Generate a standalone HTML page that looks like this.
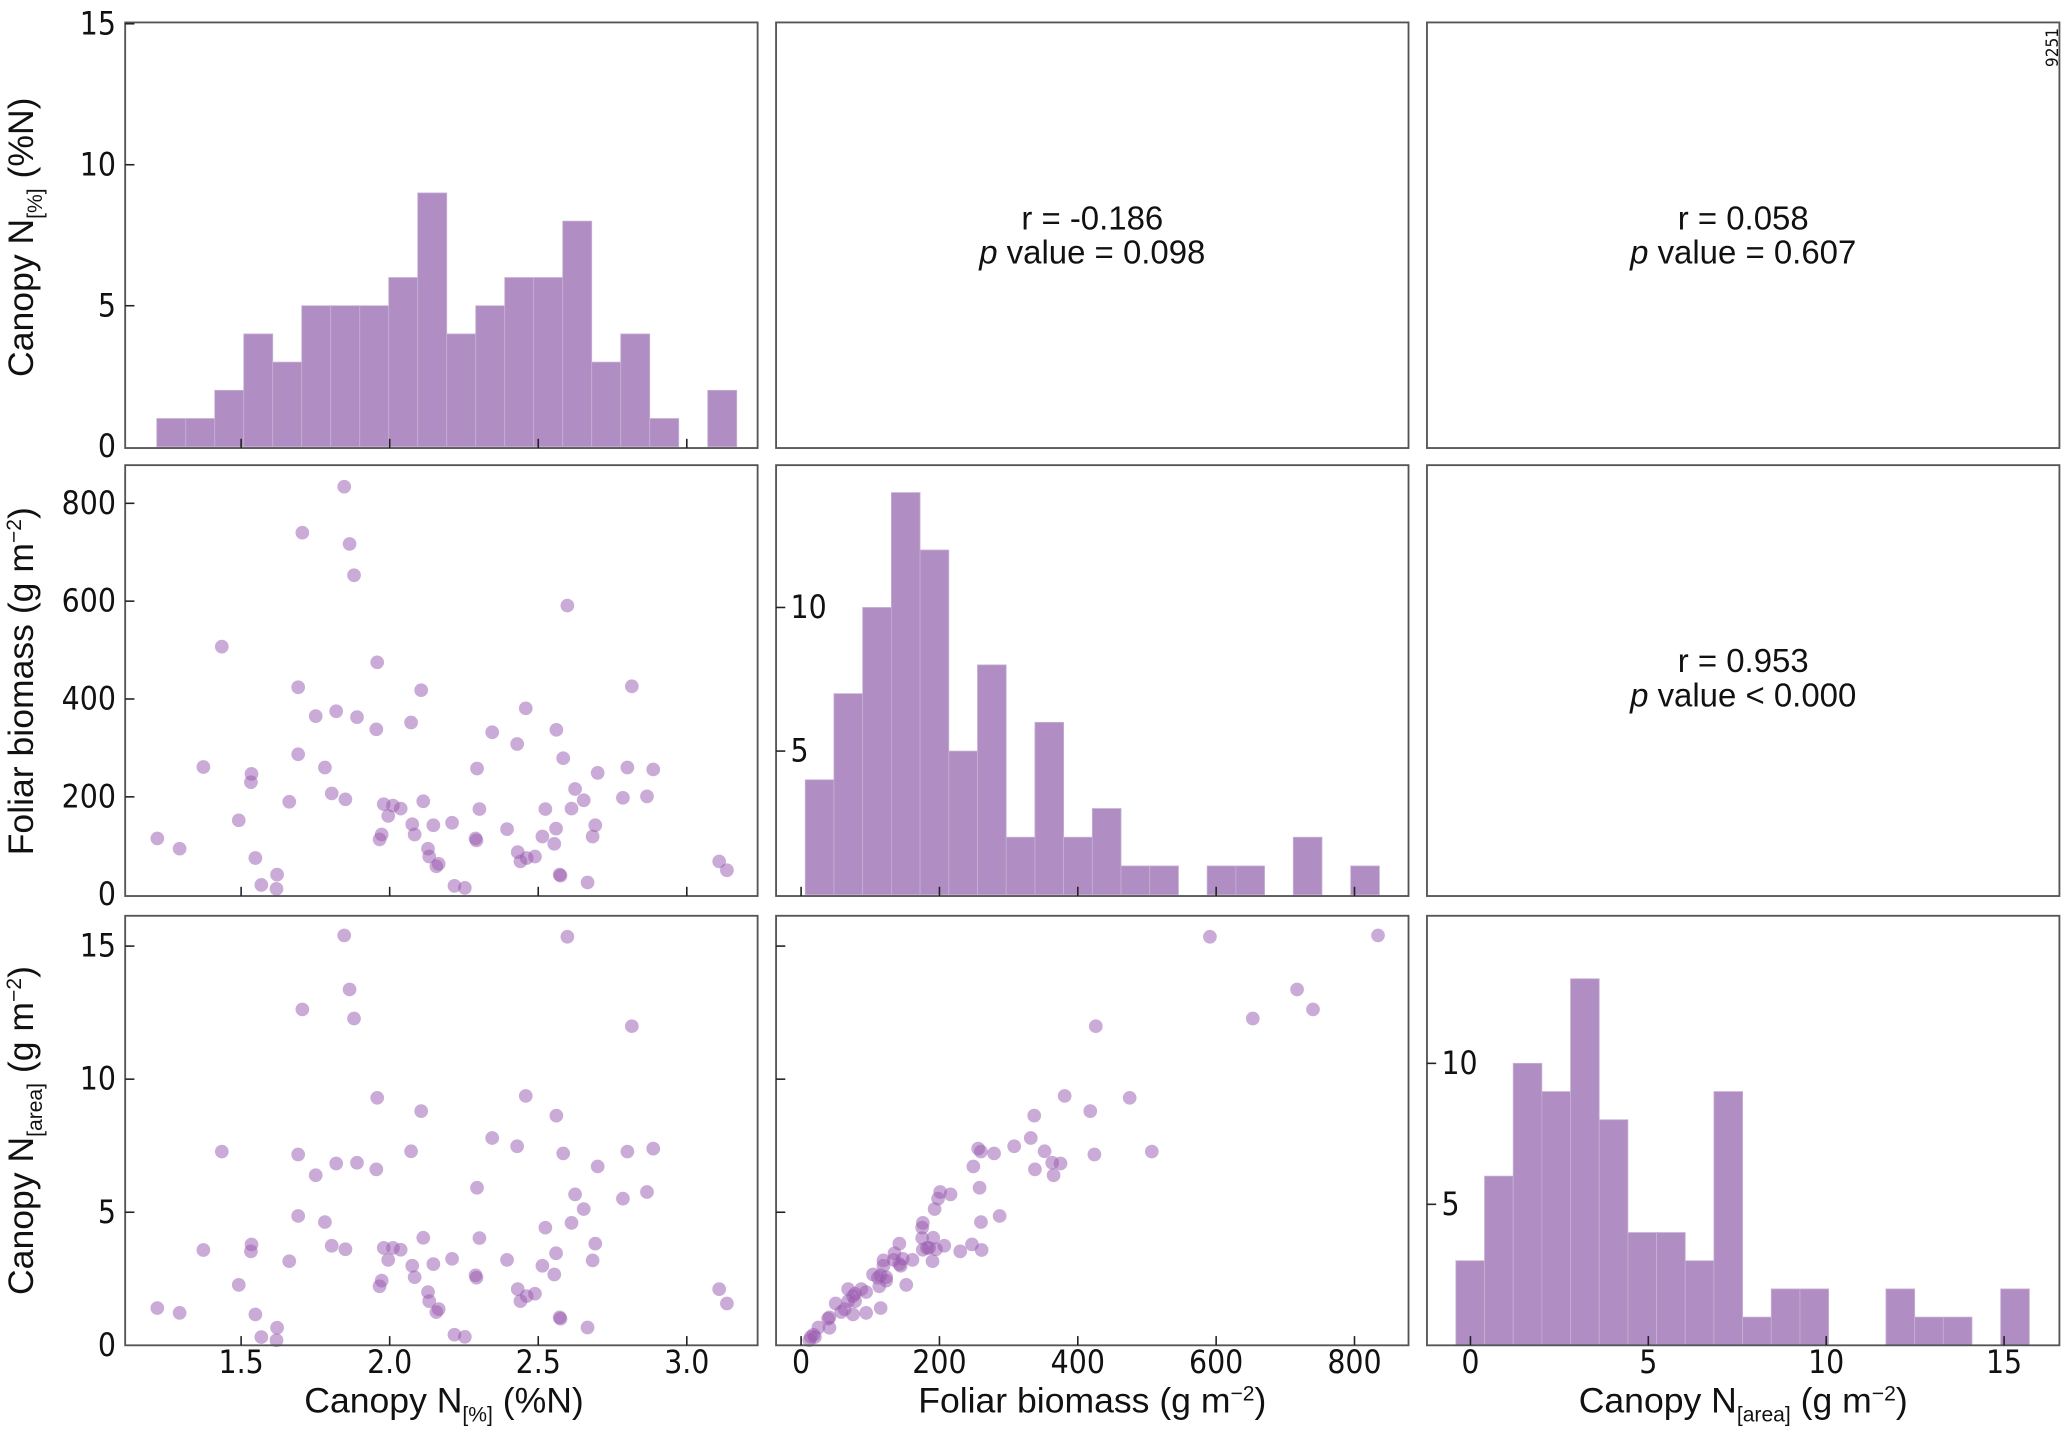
<!DOCTYPE html>
<html><head><meta charset="utf-8"><style>
html,body{margin:0;padding:0;background:#fff}
svg{display:block}
text{font-family:"Liberation Sans Narrow","DejaVu Sans Condensed","Liberation Sans",sans-serif;fill:#111}
.tt{font-family:"Liberation Sans","DejaVu Sans",sans-serif}
</style></head><body>
<svg id="c" width="2066" height="1431" viewBox="0 0 1568 1086" xmlns="http://www.w3.org/2000/svg"></svg>
<script>
const nPct=[1.847,1.706,1.865,1.880,2.598,1.435,1.958,1.692,2.106,2.815,2.458,1.751,1.820,1.890,1.955,2.072,2.345,2.429,2.561,2.584,1.692,1.373,1.535,1.533,1.782,2.294,2.700,2.800,2.887,2.624,1.805,1.851,1.662,1.980,2.011,2.037,2.113,2.302,2.524,2.612,2.653,2.785,2.866,1.995,1.492,2.076,2.147,2.210,2.395,2.560,2.692,1.973,1.966,2.084,2.289,2.292,2.514,2.683,2.554,1.218,1.293,2.129,2.133,2.431,2.461,2.440,2.489,1.548,2.165,2.157,3.109,3.135,2.572,2.575,1.621,1.568,2.218,2.666,1.619,2.253];
const foliar=[834,740,717,653,591,507,475,424,418,426,381,365,375,363,338,352,332,308,337,279,287,261,247,230,260,258,249,260,256,216,207,195,190,185,182,176,191,175,175,176,193,198,201,161,152,144,142,147,134,135,142,123,113,123,115,111,119,119,104,115,94,94,78,87,75,68,78,75,63,58,68,50,41,39,41,20,18,25,12,14];
const nArea=[15.40,12.62,13.37,12.28,15.35,7.28,9.30,7.17,8.80,11.99,9.37,6.39,6.83,6.86,6.61,7.29,7.79,7.48,8.63,7.21,4.86,3.58,3.79,3.53,4.63,5.92,6.72,7.28,7.39,5.67,3.74,3.61,3.16,3.66,3.66,3.59,4.04,4.03,4.42,4.60,5.12,5.51,5.76,3.21,2.27,2.99,3.05,3.25,3.21,3.46,3.82,2.43,2.22,2.56,2.63,2.54,2.99,3.19,2.66,1.40,1.22,2.00,1.66,2.11,1.85,1.66,1.94,1.16,1.36,1.25,2.11,1.57,1.05,1.00,0.66,0.31,0.40,0.67,0.19,0.32];
const histN=[1,1,2,4,3,5,5,5,6,9,4,5,6,6,8,3,4,1,0,2];
const histF=[4,7,10,14,12,5,8,2,6,2,3,1,1,0,1,1,0,2,0,1];
const histA=[3,6,10,9,13,8,4,4,3,9,1,2,2,0,0,2,1,1,0,2];
const ticksN=["1.5","2.0","2.5","3.0"];
const ticksF=["0","200","400","600","800"];
const ticksA=["0","5","10","15"];
const ticksCount=["0","5","10","15"];
const statsR=["r = -0.186","r = 0.058","r = 0.953"];
const statsP=[" value = 0.098"," value = 0.607"," value < 0.000"];

const svg=document.getElementById('c');
const NS="http://www.w3.org/2000/svg";
function el(tag,attrs,parent){const e=document.createElementNS(NS,tag);for(const k in attrs)e.setAttribute(k,attrs[k]);(parent||svg).appendChild(e);return e;}
const cols=[[95,575],[589,1069],[1083,1563]];
const rows=[[17,340],[353,680],[695,1021]];
const xN=v=>183+(v-1.5)*225.5;
const xF=v=>608+v*0.525;
const xA=v=>1116+v*27;
const yN=v=>339-v*21.4;
const yF=v=>679-v*0.3713;
const yA=v=>1021-v*20.2;
const yCF=v=>679-v*21.8;
const yCA=v=>1021-v*21.4;

const pnames=[["hist-canopy-n-pct","stats-panel-1","stats-panel-2"],["scatter-n-pct-vs-foliar","hist-foliar-biomass","stats-panel-3"],["scatter-n-pct-vs-n-area","scatter-foliar-vs-n-area","hist-n-area"]];
const groups=[];
for(let r=0;r<3;r++){groups[r]=[];for(let c=0;c<3;c++){
  const g=el('g',{});
  
  
  groups[r][c]=g;
}}
function border(r,c){const g=groups[r][c];const b=el('rect',{x:cols[c][0],y:rows[r][0],width:cols[c][1]-cols[c][0],height:rows[r][1]-rows[r][0],fill:'none',stroke:'#555','stroke-width':1.4},g);
  }

function hist(g,counts,x0,bw,xs,ys){
  counts.forEach((n,i)=>{if(!n)return;
    const a=xs(x0+i*bw),b=xs(x0+(i+1)*bw);
    const r=el('rect',{x:a,y:ys(n),width:b-a,height:ys(0)-ys(n),fill:'#b08dc2',stroke:'#c7b1d4','stroke-width':0.6},g);
    });
}
function scatter(g,xv,yv,xs,ys){
  xv.forEach((v,i)=>{const c=el('circle',{cx:xs(v),cy:ys(yv[i]),r:5.2,fill:'#9a5cb0','fill-opacity':0.52},g);
    });
}
function xticks(g,labels,xs,r,lab){labels.forEach(t=>{const x=xs(parseFloat(t));
  el('line',{x1:x,x2:x,y1:rows[r][1],y2:rows[r][1]-7,stroke:'#222','stroke-width':1.2},g);
  if(lab){const tx=el('text',{x:x,y:1042,'font-size':24,'text-anchor':'middle'},g);tx.textContent=t;
    }});}
function yticks(g,labels,ys,c,mode,skip0){labels.forEach(t=>{const v=parseFloat(t);const y=ys(v);
  if(!(skip0&&v===0)) el('line',{x1:cols[c][0],x2:cols[c][0]+7,y1:y,y2:y,stroke:'#222','stroke-width':1.2},g);
  if(mode==='out'){const tx=el('text',{x:88,y:y+8,'font-size':24,'text-anchor':'end'},g);tx.textContent=t;
    }
  else if(mode==='in'&&v!==0){const tx=el('text',{x:cols[c][0]+11,y:y+8,'font-size':24},g);tx.textContent=t;
    }});}

hist(groups[0][0],histN,1.216,0.0976,xN,yN);
border(0,0);xticks(groups[0][0],ticksN,xN,0,false);yticks(groups[0][0],ticksCount,yN,0,'out',true);
[[0,1,829,166],[0,2,1323,166],[1,2,1323,502]].forEach((s,i)=>{const g=groups[s[0]][s[1]];border(s[0],s[1]);
  const t1=el('text',{x:s[2],y:s[3]+8,'font-size':25,'text-anchor':'middle',class:'tt'},g);t1.textContent=statsR[i];
  
  const t2=el('text',{x:s[2],y:s[3]+34,'font-size':25,'text-anchor':'middle',class:'tt'},g);
  const ts=el('tspan',{'font-style':'italic'},t2);ts.textContent='p';const ts2=el('tspan',{},t2);ts2.textContent=statsP[i];
  });
scatter(groups[1][0],nPct,foliar,xN,yF);border(1,0);xticks(groups[1][0],ticksN,xN,1,false);yticks(groups[1][0],ticksF,yF,0,'out',true);
hist(groups[1][1],histF,6,41.5,xF,yCF);border(1,1);xticks(groups[1][1],ticksF,xF,1,false);yticks(groups[1][1],["0","5","10"],yCF,1,'in',true);
scatter(groups[2][0],nPct,nArea,xN,yA);border(2,0);xticks(groups[2][0],ticksN,xN,2,true);yticks(groups[2][0],ticksA,yA,0,'out',true);
scatter(groups[2][1],foliar,nArea,xF,yA);border(2,1);xticks(groups[2][1],ticksF,xF,2,true);yticks(groups[2][1],ticksA,yA,1,'none',true);
hist(groups[2][2],histA,-0.41,0.806,xA,yCA);border(2,2);xticks(groups[2][2],ticksA,xA,2,true);yticks(groups[2][2],["0","5","10"],yCA,2,'in',true);
</script>
<script>
(function(){
const svg=document.getElementById('c');const NS="http://www.w3.org/2000/svg";
function T(x,y,rot,name,parts){const t=document.createElementNS(NS,'text');t.setAttribute('class','tt');t.setAttribute('font-size',27);
  t.setAttribute('text-anchor','middle');t.setAttribute('x',x);t.setAttribute('y',y);if(rot)t.setAttribute('transform','rotate(-90 '+x+' '+y+')');
  
  parts.forEach(p=>{const s=document.createElementNS(NS,'tspan');s.textContent=p[0];if(p[1])s.setAttribute('font-size',p[1]);if(p[2])s.setAttribute('dy',p[2]);t.appendChild(s);});
  svg.appendChild(t);}
T(337,1072,false,'x-axis-title-n-pct',[["Canopy N"],["[%]",16,7],[" (%N)",null,-7]]);
T(829,1072,false,'x-axis-title-foliar',[["Foliar biomass (g m"],["−2",16,-9],[")",null,9]]);
T(1323,1072,false,'x-axis-title-n-area',[["Canopy N"],["[area]",16,7],[" (g m",null,-7],["−2",16,-9],[")",null,9]]);
T(25,180,true,'y-axis-title-n-pct',[["Canopy N"],["[%]",16,7],[" (%N)",null,-7]]);
T(25,517,true,'y-axis-title-foliar',[["Foliar biomass (g m"],["−2",16,-9],[")",null,9]]);
T(25,858,true,'y-axis-title-n-area',[["Canopy N"],["[area]",16,7],[" (g m",null,-7],["−2",16,-9],[")",null,9]]);
const id=document.createElementNS(NS,'text');id.setAttribute('x',1562);id.setAttribute('y',36);id.setAttribute('font-size',13);
id.setAttribute('text-anchor','middle');id.setAttribute('transform','rotate(-90 1562 36)');id.textContent='9251';
svg.appendChild(id);
})();
</script>
</body></html>
